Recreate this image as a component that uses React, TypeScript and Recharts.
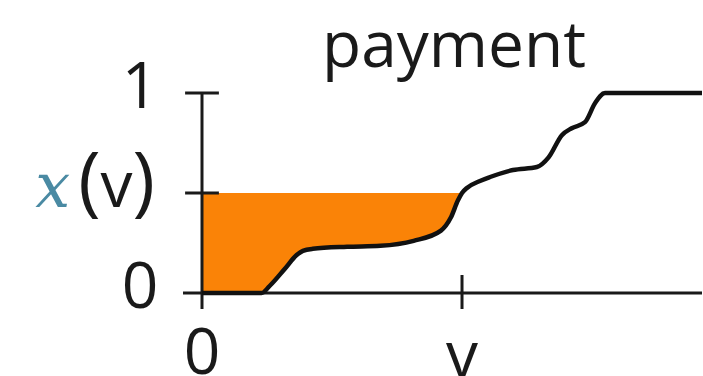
import { ComposedChart, Line, Area, XAxis, YAxis, ReferenceLine } from "recharts";

// allocation rule x(v) sampled along the value axis (v = 1 is the marked value)
const values = [
  0, 0.229, 0.26, 0.318, 0.364, 0.388, 0.426, 0.558, 0.686, 0.814, 0.919, 0.957,
  0.984, 1.0, 1.019, 1.069, 1.108, 1.196, 1.288, 1.333, 1.384, 1.422, 1.473,
  1.512, 1.55, 1.923,
];
const allocation = [
  0, 0, 0.035, 0.12, 0.19, 0.211, 0.221, 0.231, 0.236, 0.261, 0.312, 0.377,
  0.462, 0.5, 0.525, 0.56, 0.58, 0.615, 0.63, 0.678, 0.789, 0.824, 0.854,
  0.95, 1, 1,
];
const markedValue = 1;
const markedAllocation = 0.5;
const yTickLabels = ["1", "0"];
const xTickLabels = ["0", "v"];

const data = values.map((v, i) => ({
  v,
  alloc: allocation[i],
  // payment region: between the curve and x(v), for values up to v
  pay: v <= markedValue ? [allocation[i], markedAllocation] : null,
}));

const ink = "#1a1a1a";
const font = "'Open Sans', sans-serif";

const App = () => {
  return (
    <div style={{ position: "relative", width: 703, height: 376, background: "#fff" }}>
      <style>{"body{margin:0}"}</style>
      <ComposedChart
        width={703}
        height={376}
        data={data}
        margin={{ top: 93, right: 1, bottom: 83, left: 202 }}
      >
        <XAxis dataKey="v" type="number" domain={[0, 1.923]} hide />
        <YAxis type="number" domain={[0, 1]} hide />
        <Area
          dataKey="pay"
          type="monotone"
          stroke="none"
          fill="#fa8307"
          fillOpacity={1}
          isAnimationActive={false}
        />
        {/* axes and ticks */}
        <ReferenceLine
          segment={[{ x: 0, y: -0.08 }, { x: 0, y: 1 }]}
          stroke={ink}
          strokeWidth={3}
          ifOverflow="visible"
        />
        <ReferenceLine
          segment={[{ x: -0.073, y: 0 }, { x: 1.923, y: 0 }]}
          stroke={ink}
          strokeWidth={3}
          ifOverflow="visible"
        />
        <ReferenceLine
          segment={[{ x: -0.065, y: 1 }, { x: 0.065, y: 1 }]}
          stroke={ink}
          strokeWidth={3}
          ifOverflow="visible"
        />
        <ReferenceLine
          segment={[{ x: -0.065, y: markedAllocation }, { x: 0.065, y: markedAllocation }]}
          stroke={ink}
          strokeWidth={3}
          ifOverflow="visible"
        />
        <ReferenceLine
          segment={[{ x: markedValue, y: -0.08 }, { x: markedValue, y: 0.09 }]}
          stroke={ink}
          strokeWidth={3}
          ifOverflow="visible"
        />
        <Line
          dataKey="alloc"
          type="monotone"
          stroke="#111"
          strokeWidth={4.5}
          dot={false}
          isAnimationActive={false}
        />
      </ComposedChart>
      <svg
        width={703}
        height={376}
        style={{ position: "absolute", left: 0, top: 0, pointerEvents: "none" }}
        fontFamily={font}
        fontSize={64}
        fill={ink}
      >
        <text x={454} y={67} textAnchor="middle">payment</text>
        <text x={140} y={108} textAnchor="middle">{yTickLabels[0]}</text>
        <text x={155} y={207} textAnchor="end">
          <tspan
            fill="#4a8aa3"
            style={{ fontFamily: "'DejaVu Serif', serif", fontStyle: "italic" }}
            fontSize={62}
          >
            x
          </tspan>
          <tspan fontSize={76} dx={8}>(</tspan>
          <tspan>v</tspan>
          <tspan fontSize={76}>)</tspan>
        </text>
        <text x={140} y={308} textAnchor="middle">{yTickLabels[1]}</text>
        <text x={202} y={374} textAnchor="middle">{xTickLabels[0]}</text>
        <text x={462} y={377} textAnchor="middle">{xTickLabels[1]}</text>
      </svg>
    </div>
  );
};

export default App;
